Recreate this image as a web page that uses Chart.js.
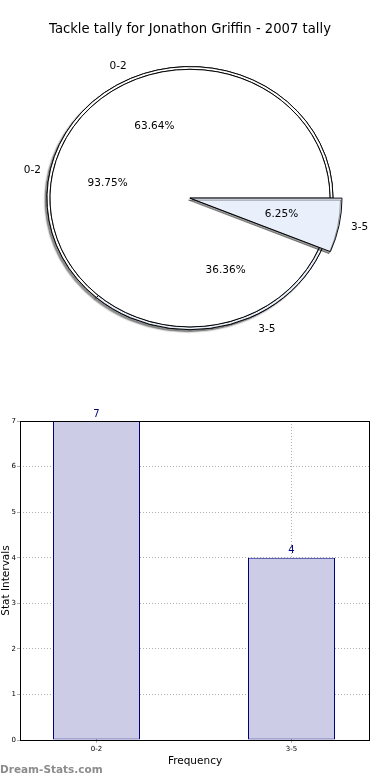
<!DOCTYPE html>
<html><head><meta charset="utf-8">
<script src="https://cdn.jsdelivr.net/npm/chart.js@4"></script>
<style>
html,body{margin:0;padding:0;background:#fff;}
#wrap{position:relative;width:390px;height:780px;overflow:hidden;}
#pieBox{position:absolute;left:0;top:0;width:390px;height:390px;}
#barBox{position:absolute;left:0;top:390px;width:390px;height:390px;}
</style></head><body>
<div id="wrap">
<div id="pieBox"><canvas id="pie"></canvas></div>
<div id="barBox"><canvas id="bar"></canvas></div>
</div>
<script>
const titleText = 'Tackle tally for Jonathon Griffin - 2007 tally';
const categories = ['0-2', '3-5'];
const tallyCounts = [7, 4];            // outer pie + bar chart
const innerShares = [93.75, 6.25];     // inner pie (percent)
const yTicks = [0, 1, 2, 3, 4, 5, 6, 7];
const xAxisTitle = 'Frequency';
const yAxisTitle = 'Stat Intervals';
const watermarkText = 'Dream-Stats.com';

const FONT = 'DejaVu Sans';
const sliceColors = {'0-2': '#ffffff', '3-5': '#e9f0fc'};
const Y_SQUASH = 0.92;

// Chart.js draws clockwise; reverse the order to mimic the counter-clockwise layout
const pieLabels = categories.slice().reverse();
const outerData = tallyCounts.slice().reverse();
const innerData = innerShares.slice().reverse();
const pieColors = pieLabels.map(c => sliceColors[c]);
const wedgeColors = pieLabels.map(c => c === '3-5' ? sliceColors[c] : 'rgba(0,0,0,0)');
const wedgeBorders = pieLabels.map(c => c === '3-5' ? 1 : 0);

// ring geometry: outer pie r=143 (3px rim visible), inner pie r=140, enlarged 3-5 wedge r=152
const W_TOTAL = 1000, W_OUT = 1000 * 3 / 143, W_WEDGE = 1;
const W_IN = W_TOTAL - W_OUT - W_WEDGE;

const ellipsePlugin = {
  id: 'ellipse',
  beforeDatasetsDraw(chart) {
    const ctx = chart.ctx;
    const a0 = chart.getDatasetMeta(0).data[0];
    const cx = a0.x, cy = a0.y;
    ctx.save();
    ctx.translate(cx, cy); ctx.scale(1, Y_SQUASH); ctx.translate(-cx, -cy);
    ctx.save();
    ctx.shadowColor = 'rgba(0,0,0,0.45)';
    ctx.shadowOffsetX = -2; ctx.shadowOffsetY = 2; ctx.shadowBlur = 1.5;
    chart.getDatasetMeta(0).data.forEach(a => a.draw(ctx));
    ctx.restore();
  },
  beforeDatasetDraw(chart, args) {
    if (args.index === 2) {
      const ctx = chart.ctx;
      ctx.save();
      ctx.shadowColor = 'rgba(0,0,0,0.4)';
      ctx.shadowOffsetX = -1.5; ctx.shadowOffsetY = 2; ctx.shadowBlur = 0.5;
    }
  },
  afterDatasetDraw(chart, args) {
    if (args.index === 2) chart.ctx.restore();
  },
  afterDatasetsDraw(chart) {
    const ctx = chart.ctx;
    ctx.restore();
    ctx.save();
    ctx.fillStyle = '#000';
    ctx.font = '10.5px "' + FONT + '"';
    ctx.textBaseline = 'middle';
    const sources = [
      {d: 0, cats: ['0-2', '3-5'], labelDist: 1.1},
      {d: 1, cats: ['0-2'], labelDist: 1.1},
      {d: 2, cats: ['3-5'], labelDist: 1.06}
    ];
    sources.forEach(src => {
      const ds = chart.data.datasets[src.d];
      const meta = chart.getDatasetMeta(src.d);
      const total = ds.data.reduce((s, v) => s + v, 0);
      meta.data.forEach((arc, i) => {
        const cat = chart.data.labels[i];
        if (!src.cats.includes(cat)) return;
        const p = arc.getProps(['x', 'y', 'startAngle', 'endAngle', 'outerRadius'], true);
        const mid = (p.startAngle + p.endAngle) / 2;
        const pos = r => [p.x + Math.cos(mid) * r, p.y + Math.sin(mid) * r * Y_SQUASH];
        const [px, py] = pos(0.6 * p.outerRadius);
        ctx.textAlign = 'center';
        ctx.fillText((ds.data[i] / total * 100).toFixed(2) + '%', px + (src.d === 2 ? 2 : 0), py);
        const [lx, ly] = pos(src.labelDist * p.outerRadius);
        const right = Math.cos(mid) >= 0;
        ctx.textAlign = right ? 'left' : 'right';
        ctx.fillText(cat, lx + (right ? 3 : 2), ly);
      });
    });
    ctx.restore();
  }
};

new Chart(document.getElementById('pie'), {
  type: 'pie',
  data: {
    labels: pieLabels,
    datasets: [
      {data: outerData, backgroundColor: pieColors, borderColor: '#000', borderWidth: 1,
       weight: W_OUT, radius: 143, order: 2},
      {data: innerData, backgroundColor: pieColors, borderColor: '#000', borderWidth: 1,
       weight: W_IN, radius: 140 / (1 - W_OUT / W_TOTAL), order: 1},
      {data: innerData, backgroundColor: wedgeColors, borderColor: '#000', borderWidth: wedgeBorders,
       weight: W_WEDGE, radius: 152 * W_TOTAL / W_WEDGE, order: 0}
    ]
  },
  options: {
    responsive: true, maintainAspectRatio: false, animation: false, events: [],
    rotation: 90,
    layout: {padding: {top: 0, left: 0, right: 10, bottom: 33.6}},
    plugins: {
      legend: {display: false}, tooltip: {enabled: false},
      title: {display: true, text: titleText, color: '#000', font: {family: FONT, size: 13.2, weight: 'normal'}, padding: {top: 22, bottom: 2}}
    }
  },
  plugins: [ellipsePlugin]
});

const framePlugin = {
  id: 'frame',
  afterDraw(chart) {
    const {ctx, chartArea: a} = chart;
    ctx.save();
    ctx.strokeStyle = '#000'; ctx.lineWidth = 1;
    ctx.strokeRect(Math.round(a.left) + 0.5, Math.round(a.top) + 0.5, Math.round(a.right - a.left) - 1, Math.round(a.bottom - a.top));
    ctx.fillStyle = '#000080';
    ctx.font = '10px "' + FONT + '"';
    ctx.textAlign = 'center'; ctx.textBaseline = 'bottom';
    const meta = chart.getDatasetMeta(0);
    meta.data.forEach((b, i) => ctx.fillText(String(tallyCounts[i]), b.x, b.y - 2));
    ctx.fillStyle = '#8c8c8c';
    ctx.font = 'bold 10.5px "' + FONT + '"';
    ctx.textAlign = 'left'; ctx.textBaseline = 'middle';
    ctx.fillText(watermarkText, 0, chart.height - 10);
    ctx.restore();
  }
};

const barPoints = tallyCounts.map((v, i) => ({x: i, y: v}));

new Chart(document.getElementById('bar'), {
  type: 'bar',
  data: {
    labels: categories,
    datasets: [{data: barPoints, backgroundColor: '#ccccE6', borderColor: '#000080', borderWidth: 1, borderSkipped: false, barPercentage: 0.44615, categoryPercentage: 1}]
  },
  options: {
    responsive: true, maintainAspectRatio: false, animation: false, events: [],
    layout: {padding: {top: 31, right: 20, left: 0, bottom: 0}},
    plugins: {legend: {display: false}, tooltip: {enabled: false}},
    scales: {
      x: {
        type: 'linear', z: 1, min: -0.39231, max: 1.40256, offset: false,
        afterBuildTicks: s => { s.ticks = categories.map((c, i) => ({value: i})); },
        grid: {offset: false, color: '#b0b0b0', tickLength: 3},
        border: {display: false, dash: [1, 2]},
        ticks: {font: {family: FONT, size: 7}, color: '#000', padding: 2, callback: v => categories[v]},
        title: {display: true, text: xAxisTitle, color: '#000', font: {family: FONT, size: 10.5}, padding: {top: 3, bottom: 12}},
        afterFit: s => { s.height = 40; }
      },
      y: {
        z: 1, min: 0, max: 7,
        afterBuildTicks: s => { s.ticks = yTicks.map(v => ({value: v})); },
        grid: {color: '#b0b0b0', tickLength: 3},
        border: {display: false, dash: [1, 2]},
        ticks: {font: {family: FONT, size: 7}, color: '#000', padding: 1},
        title: {display: true, text: yAxisTitle, color: '#000', font: {family: FONT, size: 10.5}, padding: 0},
        afterFit: s => { s.width = 20; }
      }
    }
  },
  plugins: [framePlugin]
});
</script>
</body></html>
